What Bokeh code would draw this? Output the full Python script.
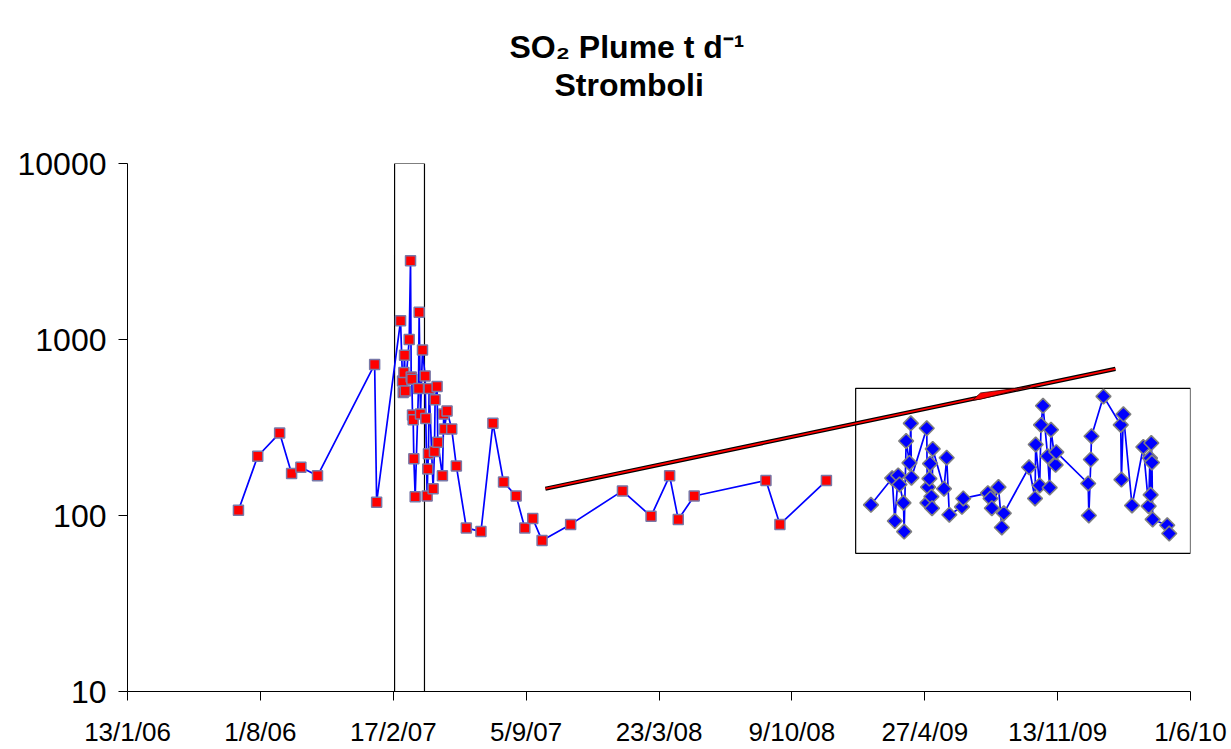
import numpy as np
import pandas as pd
from bokeh.plotting import figure
from bokeh.models import Range1d, FixedTicker, Title, BasicTickFormatter
from bokeh.embed import file_html
from bokeh.resources import INLINE

# ---------------- data ----------------
title_line1 = "SO\u2082 Plume  t d\u207b\u00b9"
title_line2 = "Stromboli"

red_dates = [
    "2006-06-29", "2006-07-28", "2006-08-30", "2006-09-17", "2006-10-01", "2006-10-26",
    "2007-01-20", "2007-01-23", "2007-02-28", "2007-03-03", "2007-03-04", "2007-03-05",
    "2007-03-06", "2007-03-07", "2007-03-13", "2007-03-15", "2007-03-16", "2007-03-17",
    "2007-03-18", "2007-03-19", "2007-03-20", "2007-03-22", "2007-03-27", "2007-03-28",
    "2007-03-30", "2007-04-02", "2007-04-06", "2007-04-07", "2007-04-09", "2007-04-10",
    "2007-04-11", "2007-04-12", "2007-04-18", "2007-04-20", "2007-04-21", "2007-04-24",
    "2007-04-25", "2007-05-02", "2007-05-04", "2007-05-05", "2007-05-09", "2007-05-16",
    "2007-05-23", "2007-06-07", "2007-06-29", "2007-07-17", "2007-08-02", "2007-08-21",
    "2007-09-03", "2007-09-15", "2007-09-29", "2007-11-11", "2008-01-28", "2008-03-11",
    "2008-04-08", "2008-04-21", "2008-05-15", "2008-08-31", "2008-09-21", "2008-11-30",
]
red_values = [
    107, 217, 294, 173, 188, 168,
    722, 119, 1276, 581, 500, 649,
    813, 510, 1000, 2806, 612, 594,
    372, 350, 210, 128, 526, 1426,
    377, 871, 621, 356, 129, 184,
    224, 526, 142, 231, 454, 541,
    261, 168, 377, 310, 393, 310,
    191, 85, 81, 334, 155, 129,
    85, 96, 72, 89, 138, 99,
    168, 95, 129, 158, 89, 158,
]

blue_dates = [
    "2009-02-05", "2009-03-09", "2009-03-13", "2009-03-18", "2009-03-20", "2009-03-26",
    "2009-03-27", "2009-03-30", "2009-04-04", "2009-04-06", "2009-04-07", "2009-04-30",
    "2009-05-01", "2009-05-02", "2009-05-04", "2009-05-05", "2009-05-07", "2009-05-08",
    "2009-05-09", "2009-05-26", "2009-05-30", "2009-06-03", "2009-06-22", "2009-06-24",
    "2009-07-31", "2009-08-04", "2009-08-06", "2009-08-16", "2009-08-21", "2009-08-24",
    "2009-10-01", "2009-10-10", "2009-10-11", "2009-10-17", "2009-10-19", "2009-10-22",
    "2009-10-29", "2009-11-01", "2009-11-03", "2009-11-10", "2009-11-11", "2009-12-29",
    "2009-12-30", "2010-01-02", "2010-01-03", "2010-01-21", "2010-02-16", "2010-02-17",
    "2010-02-20", "2010-03-05", "2010-03-22", "2010-03-30", "2010-04-01", "2010-04-02",
    "2010-04-03", "2010-04-04", "2010-04-05", "2010-04-27", "2010-04-30",
]
blue_values = [
    115, 163, 93, 169, 150, 118,
    81, 265, 199, 334, 164, 313,
    118, 145, 162, 197, 128, 110,
    239, 142, 213, 101, 112, 125,
    134, 125, 110, 145, 85.5, 103,
    188, 125, 253, 148, 327, 420,
    217, 144, 307, 194, 229, 152,
    100, 208, 282, 475, 327, 160,
    376, 114, 245, 113, 212, 131,
    258, 200, 95, 88, 79,
]

tick_dates = ["2006-01-13", "2006-08-01", "2007-02-17", "2007-09-05", "2008-03-23",
              "2008-10-09", "2009-04-27", "2009-11-13", "2010-06-01"]
tick_labels = ["13/1/06", "1/8/06", "17/2/07", "5/9/07", "23/3/08",
               "9/10/08", "27/4/09", "13/11/09", "1/6/10"]
y_ticks = [10, 100, 1000, 10000]

# highlight boxes
box_left = ["2007-02-19", "2009-01-13"]
box_right = ["2007-04-05", "2010-06-01"]
box_bottom = [10, 61]
box_top = [10000, 528]

# trend arrow
trend_dates = ["2007-10-04", "2010-02-08"]
trend_values = [142, 681]
wedge_dates = ["2009-07-08", "2009-07-20", "2009-10-03", "2009-07-20"]
wedge_values = [452, 497, 541, 458]


def ms(dates):
    return pd.to_datetime(dates).values.astype("datetime64[ms]").astype("int64").astype(float)


red_x = ms(red_dates)
blue_x = ms(blue_dates)
tick_x = ms(tick_dates)

FONT = "Liberation Sans"

p = figure(width=1231, height=749, x_axis_type="datetime", y_axis_type="log",
           x_range=Range1d(tick_x[0], tick_x[-1]), y_range=Range1d(10, 10000),
           output_backend="svg", toolbar_location=None,
           min_border_left=127, min_border_right=41, min_border_top=163, min_border_bottom=55)
p.xgrid.visible = False
p.ygrid.visible = False
p.outline_line_color = None
p.background_fill_color = "white"
p.border_fill_color = "white"

# titles (spacer closest to the frame, then line 2, then line 1 outermost)
p.title.text = title_line1
p.title.text_font = FONT
p.title.text_font_size = "32px"
p.title.text_font_style = "bold"
p.title.text_color = "black"
p.title.align = "left"
p.title.offset = 382
p.title.standoff = 0
p.add_layout(Title(text=" ", text_font=FONT, text_font_size="1px", standoff=58), "above")
p.add_layout(Title(text=title_line2, text_font=FONT, text_font_size="32px", text_color="black",
                   text_font_style="bold", align="left", offset=427, standoff=0), "above")

p.xaxis.ticker = FixedTicker(ticks=list(tick_x))
p.xaxis.major_label_overrides = {float(t): l for t, l in zip(tick_x, tick_labels)}
p.xaxis.minor_tick_line_color = None
p.xaxis.major_tick_in = 0
p.xaxis.major_tick_out = 9
p.xaxis.major_label_standoff = 16
p.xaxis.major_label_text_font = FONT
p.xaxis.major_label_text_font_size = "26px"
p.xaxis.major_label_text_color = "black"
p.xaxis.axis_line_color = "black"

p.yaxis.ticker = FixedTicker(ticks=y_ticks)
p.yaxis.formatter = BasicTickFormatter()
p.yaxis.minor_tick_line_color = None
p.yaxis.major_tick_in = 0
p.yaxis.major_tick_out = 9
p.yaxis.major_label_standoff = 12
p.yaxis.major_label_text_font = FONT
p.yaxis.major_label_text_font_size = "32px"
p.yaxis.major_label_text_color = "black"
p.yaxis.axis_line_color = "black"

# boxes
p.quad(left=ms(box_left), right=ms(box_right), bottom=box_bottom, top=box_top,
       fill_color=None, line_color="black", line_width=1.2)

# series
p.line(red_x, red_values, line_color="#0000FF", line_width=1.7)
p.scatter(red_x, red_values, marker="square", size=10, fill_color="#FF0000",
          line_color="#7878A8", line_width=1.5)
p.line(blue_x, blue_values, line_color="#0000FF", line_width=1.7)
p.scatter(blue_x, blue_values, marker="square", angle=np.pi / 4, size=10.5,
          fill_color="#0000FF", line_color="#808080", line_width=1.6)

# trend arrow
tx = ms(trend_dates)
p.line(tx, trend_values, line_color="black", line_width=4.2)
p.line(tx, trend_values, line_color="#FF0000", line_width=1.8)
p.patch(ms(wedge_dates), wedge_values, fill_color="#FF0000", line_color="#400000", line_width=0.8)

open("out.html", "w").write(file_html(p, INLINE))
